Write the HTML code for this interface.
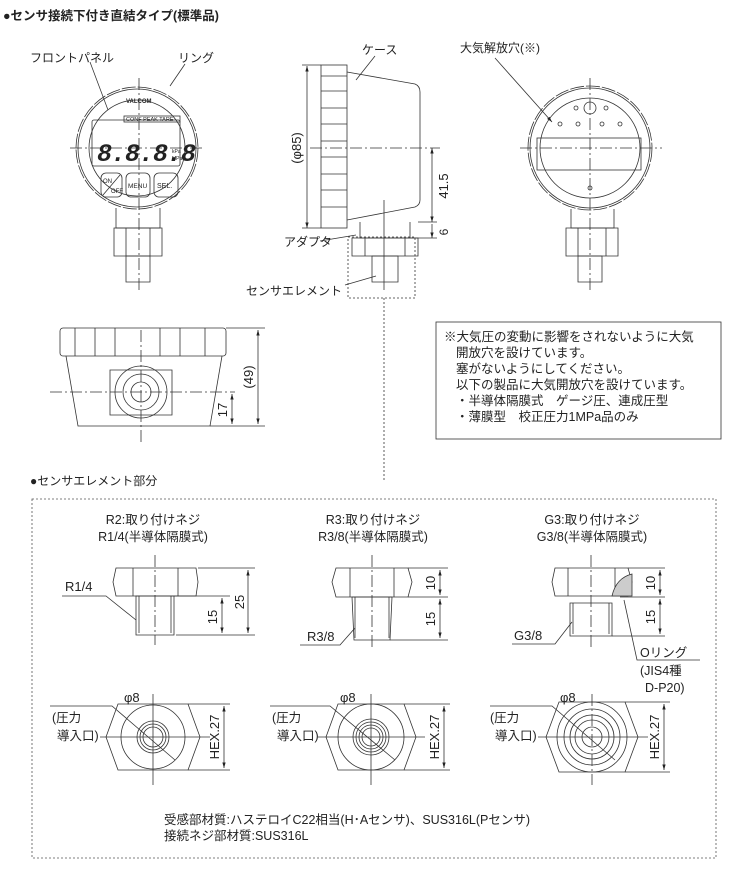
<!DOCTYPE html>
<html><head><meta charset="utf-8"><style>
html,body{margin:0;padding:0;background:#fff;}
svg{display:block;font-family:"Liberation Sans","Noto Sans CJK JP",sans-serif;}
text{fill:#222;font-size:12px;}
</style></head><body>
<svg width="745" height="870" viewBox="0 0 745 870" xmlns="http://www.w3.org/2000/svg">
<defs>
<marker id="a" viewBox="0 0 10 10" refX="10" refY="5" markerWidth="7" markerHeight="7" orient="auto-start-reverse"><path d="M0,2 L10,5 L0,8z" fill="#222"/></marker>
</defs>
<text x="3" y="20" style="font-size:12.5px;font-weight:bold">●センサ接続下付き直結タイプ(標準品)</text>

<!-- FRONT VIEW -->
<g stroke="#333" stroke-width="0.8" fill="none">
<circle cx="137" cy="148" r="61" stroke-dasharray="14 2"/>
<circle cx="137" cy="148" r="59"/>
<circle cx="137" cy="148" r="48"/>
<rect x="92" y="120" width="88" height="46" rx="2"/>
<rect x="124" y="116" width="56" height="6"/>
<rect x="101" y="173" width="21" height="24" rx="5"/>
<line x1="103" y1="195" x2="120" y2="175"/>
<rect x="126" y="173" width="24" height="24" rx="5"/>
<rect x="154" y="173" width="24" height="24" rx="5"/>
<path d="M116 208 V228 H160 V208"/>
<path d="M114 228 H162 V256 H114Z M126 228 V256 M150 228 V256"/>
<path d="M126 256 H150 V282 H126Z"/>
<line x1="70" y1="148" x2="205" y2="148" stroke-dasharray="12 3 2 3"/>
<line x1="139" y1="78" x2="139" y2="290" stroke-dasharray="12 3 2 3"/>
<line x1="108" y1="110" x2="90" y2="62"/>
<line x1="170" y1="86" x2="185" y2="64"/>
</g>
<text x="30" y="62" style="font-size:12px">フロントパネル</text>
<text x="178" y="62" style="font-size:12px">リング</text>
<text x="126" y="103" style="font-size:6px;font-weight:bold">VALCOM</text>
<text x="126" y="121" style="font-size:5.5px">CONF PEAK TARE</text>
<text x="97" y="161" style="font-size:25px;font-style:italic;font-weight:bold;letter-spacing:-1px;font-family:'Liberation Mono',monospace">8.8.8.8</text>
<text x="172" y="153" style="font-size:5px">kPa</text>
<text x="172" y="160" style="font-size:5px">MPa</text>
<text x="103" y="183" style="font-size:6px">ON</text>
<text x="111" y="193" style="font-size:6px">OFF</text>
<text x="128" y="188" style="font-size:6.5px">MENU</text>
<text x="157" y="188" style="font-size:7px">SEL.</text>

<!-- SIDE VIEW -->
<g stroke="#333" stroke-width="0.8" fill="none">
<rect x="321" y="65" width="26" height="163"/>
<path d="M321 76H347 M321 91H347 M321 108H347 M321 124H347 M321 141H347 M321 157H347 M321 174H347 M321 190H347 M321 207H347"/>
<path d="M347 72 L415 84 Q420 86 420 92 V200 Q420 205 415 207 L347 220"/>
<path d="M360 222 V238 H410 V222"/>
<path d="M352 238 H418 V256 H352Z M365 238V256 M405 238V256"/>
<path d="M372 256 H398 V282 H372Z"/>
<rect x="348" y="237" width="67" height="61" stroke-dasharray="2 2"/>
<line x1="384" y1="298" x2="384" y2="480" stroke-dasharray="2 2"/>
<line x1="384" y1="200" x2="384" y2="290"/>
<line x1="310" y1="148" x2="440" y2="148" stroke-dasharray="12 3 2 3"/>
<line x1="307" y1="66" x2="307" y2="228" marker-start="url(#a)" marker-end="url(#a)"/>
<line x1="302" y1="65" x2="321" y2="65"/><line x1="302" y1="228" x2="321" y2="228"/>
<line x1="432" y1="148" x2="432" y2="222" marker-start="url(#a)" marker-end="url(#a)"/>
<line x1="418" y1="222" x2="437" y2="222"/><line x1="410" y1="238" x2="437" y2="238"/>
<line x1="432" y1="224" x2="432" y2="238" marker-end="url(#a)"/>
<line x1="356" y1="80" x2="375" y2="56"/>
<line x1="320" y1="241" x2="356" y2="235"/>
<line x1="345" y1="285" x2="376" y2="276"/>
</g>
<text x="362" y="54" style="font-size:12px">ケース</text>
<text transform="translate(301,148) rotate(-90)" text-anchor="middle" style="font-size:13px">(φ85)</text>
<text transform="translate(448,186) rotate(-90)" text-anchor="middle" style="font-size:13px">41.5</text>
<text transform="translate(448,232) rotate(-90)" text-anchor="middle" style="font-size:12px">6</text>
<text x="284" y="246" style="font-size:12px">アダプタ</text>
<text x="246" y="295" style="font-size:12px">センサエレメント</text>

<!-- BACK VIEW -->
<g stroke="#333" stroke-width="0.8" fill="none">
<circle cx="590" cy="148" r="62" stroke-dasharray="14 2"/>
<circle cx="590" cy="148" r="60"/>
<circle cx="590" cy="148" r="50"/>
<rect x="537" y="138" width="104" height="32"/>
<circle cx="590" cy="108" r="6"/>
<circle cx="576" cy="108" r="2"/><circle cx="606" cy="108" r="2"/>
<circle cx="560" cy="124" r="2"/><circle cx="578" cy="124" r="2"/><circle cx="602" cy="124" r="2"/><circle cx="620" cy="124" r="2"/>
<circle cx="590" cy="188" r="2"/>
<path d="M571 209 V228 H614 V209"/>
<path d="M566 228 H618 V256 H566Z M578 228V256 M606 228V256"/>
<path d="M578 256 H602 V282 H578Z"/>
<line x1="520" y1="148" x2="662" y2="148" stroke-dasharray="12 3 2 3"/>
<line x1="590" y1="78" x2="590" y2="290" stroke-dasharray="12 3 2 3"/>
<line x1="495" y1="58" x2="552" y2="122" marker-end="url(#a)"/>
</g>
<text x="460" y="52" style="font-size:12px">大気解放穴(※)</text>

<!-- BOTTOM SIDE VIEW -->
<g stroke="#333" stroke-width="0.8" fill="none">
<rect x="60" y="328" width="166" height="28" rx="3"/>
<path d="M75 328V356 M95 328V356 M115 328V356 M160 328V356 M180 328V356 M205 328V356"/>
<path d="M66 356 L78 426 H210 L222 356"/>
<circle cx="141" cy="392" r="26"/>
<circle cx="141" cy="392" r="18"/>
<circle cx="141" cy="392" r="10"/>
<path d="M110 370 H172 V415 H110Z"/>
<line x1="50" y1="392" x2="235" y2="392" stroke-dasharray="12 3 2 3"/>
<line x1="141" y1="330" x2="141" y2="445" stroke-dasharray="12 3 2 3"/>
<line x1="226" y1="328" x2="265" y2="328"/>
<line x1="210" y1="426" x2="265" y2="426"/>
<line x1="258" y1="330" x2="258" y2="424" marker-start="url(#a)" marker-end="url(#a)"/>
<line x1="232" y1="394" x2="232" y2="424" marker-start="url(#a)" marker-end="url(#a)"/>
</g>
<text transform="translate(253,377) rotate(-90)" text-anchor="middle" style="font-size:13px">(49)</text>
<text transform="translate(227,410) rotate(-90)" text-anchor="middle" style="font-size:13px">17</text>

<!-- NOTE -->
<rect x="436" y="322" width="285" height="117" fill="none" stroke="#333" stroke-width="0.8"/>
<text x="444" y="341" style="font-size:12.5px">※大気圧の変動に影響をされないように大気</text>
<text x="456" y="357" style="font-size:12.5px">開放穴を設けています。</text>
<text x="456" y="373" style="font-size:12.5px">塞がないようにしてください。</text>
<text x="456" y="389" style="font-size:12.5px">以下の製品に大気開放穴を設けています。</text>
<text x="456" y="405" style="font-size:12.5px">・半導体隔膜式　ゲージ圧、連成圧型</text>
<text x="456" y="421" style="font-size:12.5px">・薄膜型　校正圧力1MPa品のみ</text>

<!-- SECTION 2 -->
<text x="30" y="485" style="font-size:12px">●センサエレメント部分</text>
<rect x="32" y="499" width="684" height="359" fill="none" stroke="#555" stroke-width="0.8" stroke-dasharray="2 2"/>
<text x="153" y="524" text-anchor="middle" style="font-size:12.5px">R2:取り付けネジ</text>
<text x="153" y="541" text-anchor="middle" style="font-size:12.5px">R1/4(半導体隔膜式)</text>
<text x="373" y="524" text-anchor="middle" style="font-size:12.5px">R3:取り付けネジ</text>
<text x="373" y="541" text-anchor="middle" style="font-size:12.5px">R3/8(半導体隔膜式)</text>
<text x="592" y="524" text-anchor="middle" style="font-size:12.5px">G3:取り付けネジ</text>
<text x="592" y="541" text-anchor="middle" style="font-size:12.5px">G3/8(半導体隔膜式)</text>

<g stroke="#333" stroke-width="0.8" fill="none">
<path d="M116 568 H196 L198 582 L196 596 H116 L113 582Z M133 568V596 M178 568V596"/>
<path d="M136 596 H174 V635 H136Z M139 596V633 M171 596V633"/>
<line x1="155" y1="555" x2="155" y2="645" stroke-dasharray="12 3 2 3"/>
<line x1="198" y1="568" x2="255" y2="568"/><line x1="176" y1="635" x2="255" y2="635"/><line x1="174" y1="596" x2="230" y2="596"/>
<line x1="248" y1="570" x2="248" y2="633" marker-start="url(#a)" marker-end="url(#a)"/>
<line x1="222" y1="598" x2="222" y2="633" marker-start="url(#a)" marker-end="url(#a)"/>
<path d="M62 596 H106 L136 620"/>
<path d="M118 704 H188 L200 737 L188 770 H118 L106 737Z"/>
<circle cx="153" cy="737" r="32"/><circle cx="153" cy="737" r="16"/><circle cx="153" cy="737" r="13"/><circle cx="153" cy="737" r="10"/>
<line x1="100" y1="737" x2="210" y2="737"/>
<line x1="153" y1="694" x2="153" y2="785"/>
<line x1="188" y1="704" x2="230" y2="704"/><line x1="188" y1="770" x2="230" y2="770"/>
<line x1="224" y1="706" x2="224" y2="768" marker-start="url(#a)" marker-end="url(#a)"/>
<path d="M50 706 H112 L175 760"/>
<path d="M336 568 H408 L412 582 L408 597 H336 L332 582Z M350 568V597 M394 568V597"/>
<path d="M352 597 H392 L390 640 H354Z M355 597V638 M389 597V638"/>
<line x1="372" y1="555" x2="372" y2="650" stroke-dasharray="12 3 2 3"/>
<line x1="408" y1="568" x2="448" y2="568"/><line x1="408" y1="597" x2="448" y2="597"/><line x1="390" y1="640" x2="448" y2="640"/>
<line x1="440" y1="570" x2="440" y2="595" marker-start="url(#a)" marker-end="url(#a)"/>
<line x1="440" y1="599" x2="440" y2="638" marker-start="url(#a)" marker-end="url(#a)"/>
<path d="M300 645 H340 L355 628"/>
<path d="M338 704 H404 L416 737 L404 770 H338 L326 737Z"/>
<circle cx="371" cy="737" r="33"/><circle cx="371" cy="737" r="18"/><circle cx="371" cy="737" r="15"/><circle cx="371" cy="737" r="12"/><circle cx="371" cy="737" r="9"/>
<line x1="318" y1="737" x2="425" y2="737"/>
<line x1="371" y1="694" x2="371" y2="785"/>
<line x1="404" y1="704" x2="450" y2="704"/><line x1="404" y1="770" x2="450" y2="770"/>
<line x1="444" y1="706" x2="444" y2="768" marker-start="url(#a)" marker-end="url(#a)"/>
<path d="M270 706 H330 L395 760"/>
<path d="M555 568 H628 L632 582 L628 596 H555 L552 582Z M568 568V596 M615 568V596"/>
<path d="M612 596 Q616 578 632 574 L632 596Z" fill="#ccc"/>
<path d="M570 603 H612 V636 H570Z M573 603V634 M609 603V634"/>
<line x1="591" y1="555" x2="591" y2="650" stroke-dasharray="12 3 2 3"/>
<line x1="628" y1="568" x2="665" y2="568"/><line x1="620" y1="597" x2="665" y2="597"/><line x1="612" y1="636" x2="665" y2="636"/>
<line x1="660" y1="570" x2="660" y2="595" marker-start="url(#a)" marker-end="url(#a)"/>
<line x1="660" y1="599" x2="660" y2="634" marker-start="url(#a)" marker-end="url(#a)"/>
<path d="M512 644 H555 L572 622"/>
<path d="M700 660 H637 L624 600"/>
<path d="M559 702 H625 L638 737 L625 772 H559 L546 737Z"/>
<circle cx="592" cy="737" r="35"/><circle cx="592" cy="737" r="28"/><circle cx="592" cy="737" r="22"/><circle cx="592" cy="737" r="17"/><circle cx="592" cy="737" r="10"/>
<line x1="538" y1="737" x2="648" y2="737"/>
<line x1="592" y1="694" x2="592" y2="785" stroke-dasharray="12 3 2 3"/>
<line x1="625" y1="702" x2="670" y2="702"/><line x1="625" y1="772" x2="670" y2="772"/>
<line x1="664" y1="704" x2="664" y2="770" marker-start="url(#a)" marker-end="url(#a)"/>
<path d="M490 706 H552 L615 760"/>
</g>
<text x="65" y="591" style="font-size:13px">R1/4</text>
<text transform="translate(244,602) rotate(-90)" text-anchor="middle" style="font-size:13px">25</text>
<text transform="translate(217,617) rotate(-90)" text-anchor="middle" style="font-size:13px">15</text>
<text x="124" y="702" style="font-size:13px">φ8</text>
<text x="52" y="722" style="font-size:12.5px">(圧力</text>
<text x="57" y="740" style="font-size:12.5px">導入口)</text>
<text transform="translate(219,737) rotate(-90)" text-anchor="middle" style="font-size:13px">HEX.27</text>

<text x="307" y="641" style="font-size:13px">R3/8</text>
<text transform="translate(435,583) rotate(-90)" text-anchor="middle" style="font-size:13px">10</text>
<text transform="translate(435,619) rotate(-90)" text-anchor="middle" style="font-size:13px">15</text>
<text x="340" y="702" style="font-size:13px">φ8</text>
<text x="272" y="722" style="font-size:12.5px">(圧力</text>
<text x="277" y="740" style="font-size:12.5px">導入口)</text>
<text transform="translate(439,737) rotate(-90)" text-anchor="middle" style="font-size:13px">HEX.27</text>

<text x="514" y="640" style="font-size:13px">G3/8</text>
<text transform="translate(655,583) rotate(-90)" text-anchor="middle" style="font-size:13px">10</text>
<text transform="translate(655,617) rotate(-90)" text-anchor="middle" style="font-size:13px">15</text>
<text x="640" y="657" style="font-size:12.5px">Oリング</text>
<text x="640" y="675" style="font-size:12.5px">(JIS4種</text>
<text x="645" y="692" style="font-size:12.5px">D-P20)</text>
<text x="560" y="702" style="font-size:13px">φ8</text>
<text x="490" y="722" style="font-size:12.5px">(圧力</text>
<text x="495" y="740" style="font-size:12.5px">導入口)</text>
<text transform="translate(659,737) rotate(-90)" text-anchor="middle" style="font-size:13px">HEX.27</text>

<text x="164" y="824" style="font-size:12.5px">受感部材質:ハステロイC22相当(H･Aセンサ)、SUS316L(Pセンサ)</text>
<text x="164" y="840" style="font-size:12.5px">接続ネジ部材質:SUS316L</text>
</svg>
</body></html>
